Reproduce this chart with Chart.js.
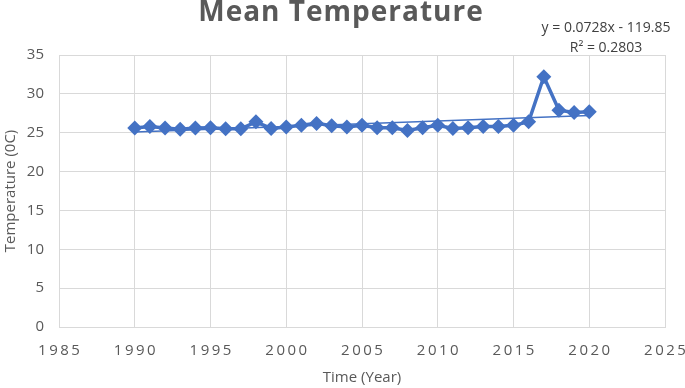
<!DOCTYPE html>
<html>
<head>
<meta charset="utf-8">
<script src="https://cdn.jsdelivr.net/npm/chart.js@4"></script>
<style>
  html, body { margin: 0; padding: 0; background: #fff; }
  #wrap { width: 685px; height: 388px; position: relative; }
</style>
</head>
<body>
<div id="wrap"><canvas id="chart"></canvas></div>
<script>
// Mean temperature by year, with a linear trendline (as in the Excel original)

const years = [1990, 1991, 1992, 1993, 1994, 1995, 1996, 1997, 1998, 1999,
  2000, 2001, 2002, 2003, 2004, 2005, 2006, 2007, 2008, 2009,
  2010, 2011, 2012, 2013, 2014, 2015, 2016, 2017, 2018, 2019, 2020];
const meanTemp = [25.6, 25.8, 25.6, 25.45, 25.6, 25.65, 25.5, 25.5, 26.4, 25.55,
  25.75, 25.95, 26.2, 25.9, 25.75, 25.95, 25.65, 25.65, 25.3, 25.65,
  25.95, 25.55, 25.65, 25.8, 25.8, 25.95, 26.4, 32.2, 27.9, 27.6, 27.7];
const trendLabel = ['y = 0.0728x - 119.85', 'R\u00b2 = 0.2803'];

const GREY = '#595959';
const BLUE = '#4472C4';
const FONT = "'Open Sans', sans-serif";

// least squares fit of the series, for the trendline
function fit(xs, ys) {
  const n = xs.length;
  const mx = xs.reduce((a, b) => a + b, 0) / n;
  const my = ys.reduce((a, b) => a + b, 0) / n;
  let sxy = 0, sxx = 0;
  xs.forEach((x, i) => { sxy += (x - mx) * (ys[i] - my); sxx += (x - mx) * (x - mx); });
  const m = sxy / sxx;
  return { m, b: my - m * mx };
}
const tr = fit(years, meanTemp);
const trendPts = [years[0], years[years.length - 1]].map(x => ({ x, y: tr.m * x + tr.b }));

const labelsPlugin = {
  id: 'labels',
  afterDraw(c) {
    const ctx = c.ctx;
    ctx.save();
    ctx.fillStyle = GREY;
    ctx.textAlign = 'center';
    ctx.textBaseline = 'alphabetic';
    ctx.font = `bold 28px ${FONT}`;
    ctx.letterSpacing = '1px';
    ctx.fillText('Mean Temperature', 341, 21);
    ctx.letterSpacing = '0px';
    ctx.fillStyle = '#404040';
    ctx.font = `14px ${FONT}`;
    ctx.fillText(trendLabel[0], 606, 32);
    ctx.fillText(trendLabel[1], 606, 52);
    ctx.restore();
  }
};

new Chart(document.getElementById('chart'), {
  type: 'line',
  data: {
    datasets: [
      {
        label: 'Linear trend',
        data: trendPts,
        borderColor: BLUE,
        borderWidth: 1.5,
        pointRadius: 0,
        order: 0,
      },
      {
        label: 'Mean Temperature',
        data: years.map((x, i) => ({ x, y: meanTemp[i] })),
        borderColor: BLUE,
        backgroundColor: BLUE,
        borderWidth: 3.5,
        pointStyle: 'rectRot',
        pointRadius: 7.5,
        pointBorderWidth: 0,
        order: 1,
      },
    ],
  },
  options: {
    responsive: true,
    maintainAspectRatio: false,
    animation: false,
    layout: { padding: { top: 55, right: 0, left: 0, bottom: 0 } },
    plugins: { legend: { display: false }, tooltip: { enabled: false } },
    scales: {
      x: {
        type: 'linear',
        min: 1985, max: 2025,
        afterFit: s => { s.height = 61; s.paddingRight = 20; },
        ticks: {
          stepSize: 5,
          padding: 15,
          color: GREY,
          font: { family: FONT, size: 15 },
          maxRotation: 0,
          callback: v => String(v).split('').join('\u2009'),
        },
        grid: { color: '#d9d9d9', drawTicks: false },
        border: { color: '#d9d9d9' },
        title: {
          display: true, text: 'Time (Year)', color: GREY,
          font: { family: FONT, size: 15 }, padding: { top: 0, bottom: 1 },
        },
      },
      y: {
        min: 0, max: 35,
        afterFit: s => { s.width = 59; },
        ticks: {
          stepSize: 5,
          padding: 15,
          color: GREY,
          font: { family: FONT, size: 15 },
        },
        grid: { color: '#d9d9d9', drawTicks: false },
        border: { color: '#d9d9d9' },
        title: {
          display: true, text: 'Temperature (0C)', color: GREY,
          font: { family: FONT, size: 15 }, padding: { top: 2, bottom: 0 },
        },
      },
    },
  },
  plugins: [labelsPlugin],
});
</script>
</body>
</html>
